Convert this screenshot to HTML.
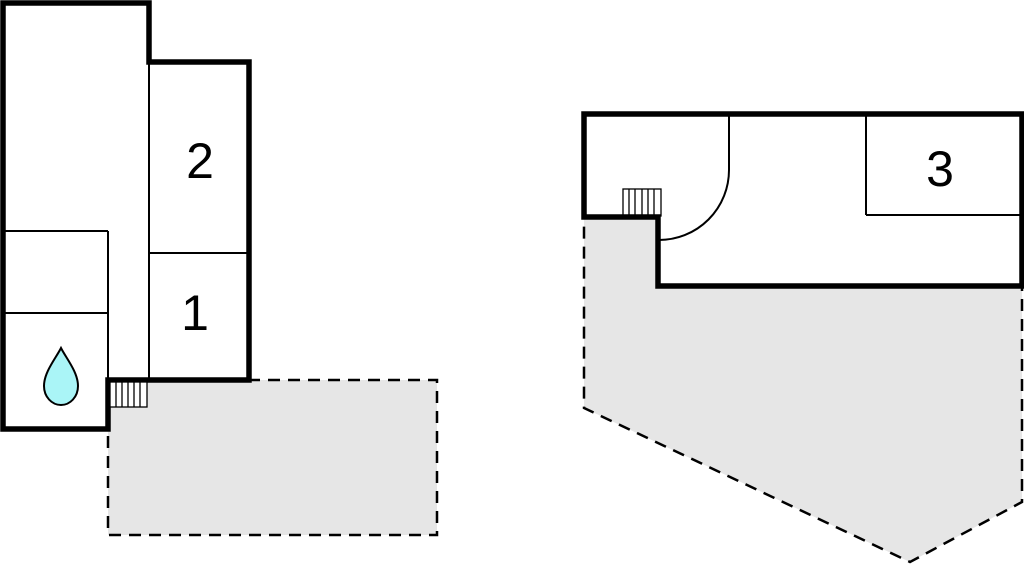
<!DOCTYPE html>
<html><head><meta charset="utf-8"><style>
html,body{margin:0;padding:0;background:#fff;width:1024px;height:565px;overflow:hidden}
svg{display:block}
text{font-family:"Liberation Sans",sans-serif;font-size:50px;fill:#000}
</style></head><body>
<svg width="1024" height="565" viewBox="0 0 1024 565" xmlns="http://www.w3.org/2000/svg">
<rect x="108" y="380" width="329" height="155" fill="#e6e6e6" stroke="#000" stroke-width="2.5" stroke-dasharray="12,8"/>
<polygon points="584,217 658,217 658,286 1022,286 1022,502 910,562 584,408" fill="#e6e6e6" stroke="#000" stroke-width="2.5" stroke-dasharray="12,8"/>
<polygon points="3,3 149,3 149,62 249,62 249,380 108,380 108,429 3,429" fill="#fff" stroke="none"/>
<g stroke="#000" stroke-width="2" fill="none">
<line x1="149" y1="62" x2="149" y2="380"/>
<line x1="149" y1="253" x2="249" y2="253"/>
<line x1="3" y1="231" x2="108" y2="231"/>
<line x1="3" y1="313" x2="108" y2="313"/>
<line x1="108" y1="231" x2="108" y2="429"/>
</g>
<polygon points="3,3 149,3 149,62 249,62 249,380 108,380 108,429 3,429" fill="none" stroke="#000" stroke-width="5.5"/>
<g stroke="#000" stroke-width="1.3" fill="#fff">
<rect x="110" y="382" width="37" height="25"/>
<line x1="116" y1="382" x2="116" y2="407"/><line x1="122" y1="382" x2="122" y2="407"/>
<line x1="128" y1="382" x2="128" y2="407"/><line x1="134" y1="382" x2="134" y2="407"/>
<line x1="140" y1="382" x2="140" y2="407"/>
</g>
<path d="M61,348 C56,358 44,372 44,386 C44,397 52,405 61,405 C70,405 78,397 78,386 C78,372 66,358 61,348 Z" fill="#aaf5f7" stroke="#000" stroke-width="2"/>
<text x="200" y="178" text-anchor="middle">2</text>
<text x="195" y="330" text-anchor="middle">1</text>
<polygon points="584,114 1022,114 1022,286 658,286 658,217 584,217" fill="#fff" stroke="none"/>
<g stroke="#000" stroke-width="2" fill="none">
<line x1="866" y1="114" x2="866" y2="215"/>
<line x1="866" y1="215" x2="1022" y2="215"/>
<path d="M729,114 L729,170 A70,70 0 0 1 659,240"/>
</g>
<g stroke="#000" stroke-width="1.3" fill="#fff">
<rect x="623" y="189" width="38" height="27"/>
<line x1="629" y1="189" x2="629" y2="216"/><line x1="635" y1="189" x2="635" y2="216"/>
<line x1="642" y1="189" x2="642" y2="216"/><line x1="648" y1="189" x2="648" y2="216"/>
<line x1="654" y1="189" x2="654" y2="216"/>
</g>
<polygon points="584,114 1022,114 1022,286 658,286 658,217 584,217" fill="none" stroke="#000" stroke-width="5.5"/>
<text x="940" y="186" text-anchor="middle">3</text>
</svg>
</body></html>
